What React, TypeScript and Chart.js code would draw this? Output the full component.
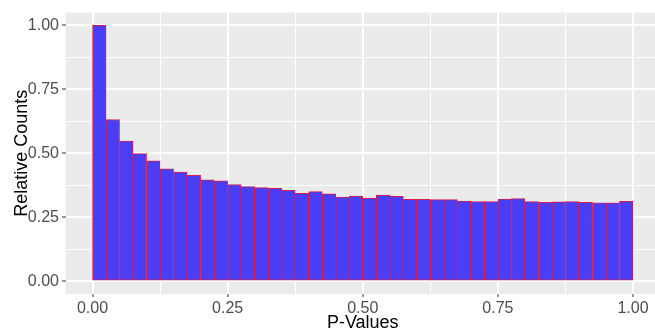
import React, { useEffect, useRef } from "react";
import { Chart, registerables } from "chart.js";

Chart.register(...registerables);

// P-value bins of width 0.025 from 0 to 1 (left edges)
const binStarts: number[] = [
  0.0, 0.025, 0.05, 0.075, 0.1, 0.125, 0.15, 0.175, 0.2, 0.225,
  0.25, 0.275, 0.3, 0.325, 0.35, 0.375, 0.4, 0.425, 0.45, 0.475,
  0.5, 0.525, 0.55, 0.575, 0.6, 0.625, 0.65, 0.675, 0.7, 0.725,
  0.75, 0.775, 0.8, 0.825, 0.85, 0.875, 0.9, 0.925, 0.95, 0.975,
];
const binWidth = 0.025;

const relativeCounts: number[] = [
  1.0, 0.632, 0.548, 0.499, 0.471, 0.439, 0.427, 0.414, 0.396, 0.392,
  0.378, 0.370, 0.366, 0.363, 0.355, 0.344, 0.350, 0.342, 0.329, 0.333,
  0.325, 0.337, 0.332, 0.320, 0.320, 0.319, 0.319, 0.313, 0.311, 0.311,
  0.321, 0.323, 0.311, 0.308, 0.310, 0.311, 0.308, 0.306, 0.306, 0.312,
];

const xMajorTicks: number[] = [0, 0.25, 0.5, 0.75, 1.0];
const xTickLabels: string[] = ["0.00", "0.25", "0.50", "0.75", "1.00"];
const yMajorTicks: number[] = [0, 0.25, 0.5, 0.75, 1.0];
const yTickLabels: string[] = ["0.00", "0.25", "0.50", "0.75", "1.00"];
const minorTicks: number[] = [0.125, 0.375, 0.625, 0.875];

const xTitle = "P-Values";
const yTitle = "Relative Counts";

function isMajor(v: number, majors: number[]) {
  return majors.some((m) => Math.abs(m - v) < 1e-9);
}
function labelFor(v: number, majors: number[], labels: string[]) {
  const i = majors.findIndex((m) => Math.abs(m - v) < 1e-9);
  return i >= 0 ? labels[i] : "";
}

const panelBg = {
  id: "panelBg",
  beforeDraw(chart: any) {
    const { ctx, chartArea } = chart;
    ctx.save();
    ctx.fillStyle = "#EBEBEB";
    ctx.fillRect(chartArea.left, chartArea.top, chartArea.right - chartArea.left, chartArea.bottom - chartArea.top);
    ctx.restore();
  },
};

const FONT = "'Liberation Sans', Arial, sans-serif";

export default function App() {
  const ref = useRef<HTMLCanvasElement | null>(null);
  useEffect(() => {
    if (!ref.current) return;
    const allTicks = (majors: number[]) =>
      [...majors, ...minorTicks].sort((a, b) => a - b).map((v) => ({ value: v }));
    const chart = new Chart(ref.current, {
      type: "bar",
      data: {
        datasets: [
          {
            data: binStarts.map((s, i) => ({ x: s + binWidth / 2, y: relativeCounts[i] })),
            backgroundColor: "#4A3DF6",
            borderColor: "#D81C4C",
            borderWidth: 1,
            borderSkipped: false,
            barPercentage: 1,
            categoryPercentage: 1,
          },
        ],
      },
      options: {
        animation: false,
        responsive: false,
        layout: { padding: { left: 0, top: 10, right: 0, bottom: 0 } },
        plugins: { legend: { display: false }, tooltip: { enabled: false } },
        scales: {
          x: {
            type: "linear",
            min: -0.05,
            max: 1.05,
            offset: false,
            afterBuildTicks: (scale: any) => {
              scale.ticks = allTicks(xMajorTicks);
            },
            afterFit: (scale: any) => {
              scale.height = 35;
            },
            border: { display: false },
            grid: {
              offset: false,
              color: "#FFFFFF",
              lineWidth: (c: any) => (isMajor(c.tick?.value, xMajorTicks) ? 2 : 1),
              tickColor: (c: any) => (isMajor(c.tick?.value, xMajorTicks) ? "#333333" : "rgba(0,0,0,0)"),
              tickLength: 3,
              tickWidth: 1,
            },
            ticks: {
              autoSkip: false,
              maxRotation: 0,
              padding: 2,
              color: "#4D4D4D",
              font: { family: FONT, size: 16 },
              callback: (v: any) => labelFor(Number(v), xMajorTicks, xTickLabels),
            },
            title: {
              display: true,
              text: xTitle,
              color: "#000000",
              font: { family: FONT, size: 18, lineHeight: 1 },
              padding: { top: 0, bottom: -3 },
            },
          },
          y: {
            type: "linear",
            min: -0.05,
            max: 1.05,
            afterBuildTicks: (scale: any) => {
              scale.ticks = allTicks(yMajorTicks);
            },
            afterFit: (scale: any) => {
              scale.width = 65.5;
            },
            border: { display: false },
            grid: {
              color: "#FFFFFF",
              lineWidth: (c: any) => (isMajor(c.tick?.value, yMajorTicks) ? 2 : 1),
              tickColor: (c: any) => (isMajor(c.tick?.value, yMajorTicks) ? "#333333" : "rgba(0,0,0,0)"),
              tickLength: 3.5,
              tickWidth: 1,
            },
            ticks: {
              autoSkip: false,
              padding: 3,
              color: "#4D4D4D",
              font: { family: FONT, size: 16 },
              callback: (v: any) => labelFor(Number(v), yMajorTicks, yTickLabels),
            },
            title: {
              display: true,
              text: yTitle,
              color: "#000000",
              font: { family: FONT, size: 18, lineHeight: 1 },
              padding: { top: 13, bottom: 0 },
            },
          },
        },
      },
      plugins: [panelBg],
    } as any);
    return () => chart.destroy();
  }, []);
  return (
    <div style={{ position: "fixed", left: 0, top: 0, width: 655, height: 329, overflow: "hidden", background: "#FFFFFF" }}>
      <canvas ref={ref} width={660} height={329} style={{ display: "block", width: 660, height: 329 }} />
    </div>
  );
}
